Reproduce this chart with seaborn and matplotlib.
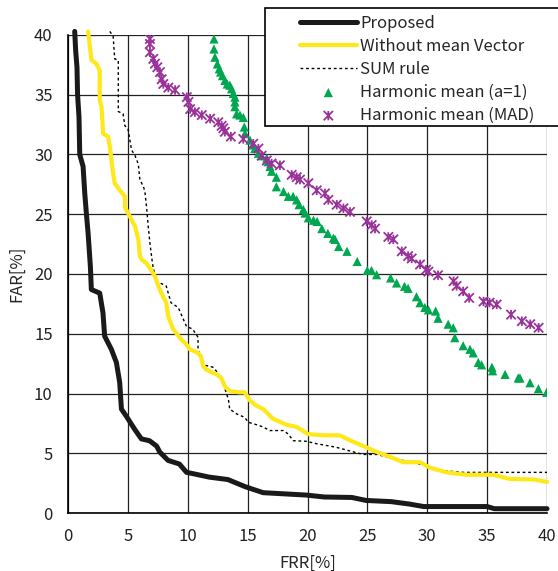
import matplotlib
matplotlib.use("Agg")
import matplotlib.pyplot as plt
from matplotlib.path import Path
from matplotlib.patches import Rectangle
import seaborn as sns
import pandas as pd

# FRR / FAR curves (percent)
proposed_frr = [0.56, 0.64, 0.75, 0.8, 0.92, 0.98, 1.26, 1.4, 1.54, 1.68, 1.87, 1.95, 2.65, 2.92, 3.06,
                3.62, 4.04, 4.32, 4.46, 4.87, 5.57, 6.13, 6.8, 7.4, 7.66, 8.36, 9.3, 9.9, 10.4, 11.8,
                13.35, 14.8, 15.1, 16.3, 18.1, 19.9, 21.4, 23.7, 24.9, 27.0, 28.5, 29.7, 35.0, 35.6, 40.0]
proposed_far = [40.3, 38.7, 37.3, 35.0, 33.1, 30.0, 29.0, 26.75, 25.0, 23.4, 20.6, 18.7, 18.4, 16.75, 14.8,
                13.7, 12.6, 10.9, 8.7, 8.1, 7.0, 6.2, 6.05, 5.6, 5.1, 4.4, 4.1, 3.4, 3.3, 3.0,
                2.8, 2.2, 2.1, 1.7, 1.6, 1.5, 1.34, 1.3, 1.05, 0.95, 0.75, 0.54, 0.54, 0.36, 0.36]

nomean_frr = [1.68, 1.96, 2.37, 2.65, 2.65, 2.8, 2.93, 3.35, 3.5, 3.63, 3.77, 3.9, 4.33, 4.75, 4.75,
              5.17, 5.6, 5.87, 6.0, 6.15, 6.56, 6.84, 7.26, 7.54, 7.8, 8.2, 8.36, 8.77, 9.47, 9.9,
              10.17, 10.86, 11.1, 11.28, 11.56, 12.4, 12.8, 13.1, 13.5, 14.3, 14.76, 15.2, 15.7, 16.3, 16.7,
              17.1, 18.2, 19.1, 20.05, 21.3, 22.7, 23.5, 24.9, 25.8, 26.9, 28.0, 29.4, 30.2, 31.6, 33.3,
              35.5, 36.9, 38.9, 40.0]
nomean_far = [40.3, 37.9, 37.6, 37.0, 34.5, 34.0, 31.75, 31.5, 30.6, 29.5, 28.4, 27.6, 27.0, 26.5, 25.6,
              24.8, 24.0, 22.9, 21.5, 21.2, 20.9, 20.5, 19.8, 19.0, 18.4, 17.6, 16.5, 15.4, 14.5, 14.1,
              13.7, 13.4, 13.1, 12.3, 12.0, 11.6, 11.3, 10.6, 10.2, 10.1, 10.1, 9.4, 9.0, 8.7, 8.3,
              7.9, 7.4, 7.2, 6.6, 6.5, 6.5, 6.1, 5.5, 5.1, 4.7, 4.25, 4.25, 3.8, 3.4, 3.2,
              3.2, 2.85, 2.8, 2.6]

sum_frr = [3.49, 3.77, 3.9, 4.2, 4.2, 4.6, 4.75, 5.0, 5.17, 5.3, 5.6, 5.87, 6.0, 6.3, 6.42,
           6.56, 6.7, 6.84, 7.0, 7.1, 7.38, 8.2, 8.6, 9.2, 9.9, 10.4, 10.86, 10.86, 11.3, 12.1,
           12.5, 12.8, 13.1, 13.4, 13.5, 14.07, 14.76, 15.04, 15.7, 16.3, 16.85, 18.0, 18.4, 18.8, 19.9,
           20.75, 22.4, 23.5, 24.65, 25.8, 27.4, 28.8, 29.7, 31.3, 33.0, 40.0]
sum_far = [40.3, 39.9, 38.0, 37.9, 33.6, 33.4, 32.4, 32.2, 31.2, 30.4, 29.9, 29.2, 27.9, 27.3, 26.9,
           25.6, 24.0, 22.6, 21.3, 20.6, 19.4, 19.0, 17.6, 17.2, 15.6, 15.4, 14.7, 13.7, 12.4, 12.2,
           11.75, 11.2, 10.4, 9.5, 8.7, 8.3, 8.0, 7.6, 7.4, 7.2, 6.9, 6.9, 6.6, 6.05, 6.0,
           5.8, 5.5, 5.2, 4.9, 4.9, 4.5, 4.25, 4.0, 3.55, 3.4, 3.4]

hm1_frr = [12.19, 12.19, 12.27, 12.47, 12.63, 12.74, 12.9, 13.1, 13.3, 13.52, 13.66, 13.8, 13.94, 13.94, 13.94,
           14.08, 14.36, 14.64, 14.72, 14.78, 15.2, 15.47, 15.6, 15.9, 16.17, 16.6, 16.7, 16.87, 17.0, 17.4,
           17.4, 18.0, 18.4, 18.8, 19.1, 19.3, 19.65, 19.8, 20.07, 20.5, 20.8, 21.2, 21.7, 22.16, 22.3,
           22.6, 23.3, 24.15, 24.99, 25.35, 25.77, 26.94, 27.44, 28.1, 28.4, 29.1, 29.4, 29.8, 30.1, 30.7,
           30.9, 31.75, 32.17, 32.3, 33.0, 33.57, 33.84, 34.26, 34.54, 35.4, 35.46, 36.5, 37.6, 37.74, 38.58,
           39.28, 39.97]
hm1_far = [39.67, 38.83, 38.14, 37.58, 37.17, 36.9, 36.6, 36.2, 35.9, 35.8, 35.5, 35.1, 34.8, 34.4, 34.0,
           33.4, 33.3, 33.1, 32.3, 31.75, 31.2, 30.8, 30.5, 30.1, 29.9, 29.7, 29.4, 29.0, 28.6, 28.1,
           27.3, 26.9, 26.5, 26.5, 26.2, 25.8, 25.4, 25.1, 24.7, 24.5, 24.4, 23.8, 23.4, 23.0, 22.9,
           22.3, 21.9, 21.05, 20.3, 20.3, 19.94, 19.67, 19.25, 18.97, 18.8, 18.1, 17.6, 17.2, 17.0, 16.9,
           16.3, 15.8, 15.5, 14.67, 14.0, 13.7, 13.4, 12.6, 12.4, 12.2, 11.9, 11.6, 11.3, 11.3, 10.9,
           10.4, 10.1]

mad_frr = [6.84, 6.84, 6.84, 7.12, 7.26, 7.46, 7.68, 7.82, 7.96, 8.38, 8.94, 9.92, 10.06, 10.2, 10.6,
           11.17, 11.87, 12.55, 12.83, 12.97, 13.1, 13.6, 14.64, 15.47, 15.9, 16.17, 16.6, 17.0, 17.7, 18.68,
           19.1, 19.37, 20.07, 20.77, 21.46, 21.74, 22.44, 23.0, 23.55, 24.94, 25.36, 25.64, 26.75, 27.17, 27.87,
           28.4, 28.7, 29.4, 29.9, 30.1, 30.9, 32.2, 32.45, 33.0, 33.5, 34.7, 35.2, 35.8, 37.0, 37.9,
           38.6, 39.3]
mad_far = [39.67, 39.25, 38.56, 38.0, 37.6, 37.3, 36.9, 36.3, 35.9, 35.6, 35.4, 34.8, 34.4, 33.8, 33.55,
           33.3, 33.0, 32.7, 32.4, 32.2, 31.9, 31.5, 31.3, 30.9, 30.5, 29.9, 29.5, 29.25, 29.1, 28.3,
           28.1, 27.9, 27.6, 27.0, 26.75, 26.2, 25.8, 25.5, 25.2, 24.4, 24.1, 23.8, 23.1, 22.9, 21.9,
           21.5, 21.3, 20.8, 20.36, 20.2, 19.9, 19.4, 19.0, 18.55, 18.0, 17.7, 17.6, 17.45, 16.6, 16.05,
           15.8, 15.5]

ticks = [0, 5, 10, 15, 20, 25, 30, 35, 40]

sns.set_style("white")
plt.rcParams["font.family"] = ["Noto Sans CJK JP", "DejaVu Sans"]

fig = plt.figure(figsize=(5.58, 5.71), dpi=100)
ax = fig.add_axes([68 / 558, 1 - 513 / 571, 479 / 558, 478 / 571])

# asterisk-like marker: X with a vertical bar
star = Path([(-1, -1), (1, 1), (-1, 1), (1, -1), (0, -1), (0, 1)],
            [Path.MOVETO, Path.LINETO, Path.MOVETO, Path.LINETO, Path.MOVETO, Path.LINETO])
purple = "#993399"

df_prop = pd.DataFrame({"FRR": proposed_frr, "FAR": proposed_far})
df_nm = pd.DataFrame({"FRR": nomean_frr, "FAR": nomean_far})
df_sum = pd.DataFrame({"FRR": sum_frr, "FAR": sum_far})
df_hm1 = pd.DataFrame({"FRR": hm1_frr, "FAR": hm1_far})
df_mad = pd.DataFrame({"FRR": mad_frr, "FAR": mad_far})

sns.lineplot(data=df_sum, x="FRR", y="FAR", sort=False, estimator=None, ax=ax,
             color="black", lw=1.0, ls=(0, (2, 2)), label="SUM rule", zorder=3)
sns.lineplot(data=df_nm, x="FRR", y="FAR", sort=False, estimator=None, ax=ax,
             color="#ffe81a", lw=3.0, label="Without mean Vector", zorder=4)
sns.lineplot(data=df_prop, x="FRR", y="FAR", sort=False, estimator=None, ax=ax,
             color="#1a1a1a", lw=3.6, label="Proposed", zorder=5)
sns.scatterplot(data=df_hm1, x="FRR", y="FAR", ax=ax, marker="^", s=44,
                color="#00a650", edgecolor="none", label="Harmonic mean (a=1)", zorder=6)
sns.scatterplot(data=df_mad, x="FRR", y="FAR", ax=ax, marker=star, s=45,
                color=purple, edgecolor=purple, facecolor="none", linewidth=1.3,
                label="Harmonic mean (MAD)", zorder=6)

for ln in ax.get_lines():
    ln.set_clip_on(False)

ax.set_xlim(0, 40)
ax.set_ylim(0, 40)
ax.set_xticks(ticks)
ax.set_yticks(ticks)
ax.grid(True, color="#222222", lw=0.9)
ax.set_axisbelow(True)
for side in ["top", "right"]:
    ax.spines[side].set_visible(False)
for side in ["left", "bottom"]:
    ax.spines[side].set_color("black")
    ax.spines[side].set_linewidth(1.2)
ax.tick_params(labelsize=12, length=0, pad=11, colors="#222222")
ax.set_xlabel("FRR[%]", fontsize=12, labelpad=7)
ax.set_ylabel("FAR[%]", fontsize=12, labelpad=6)

handles, labels = ax.get_legend_handles_labels()
order = ["Proposed", "Without mean Vector", "SUM rule", "Harmonic mean (a=1)", "Harmonic mean (MAD)"]
h = [handles[labels.index(o)] for o in order]
ax.get_legend().remove()
fig.legend(h, order, loc="upper left", bbox_to_anchor=(300 / 558, 1 - 15 / 571),
           frameon=False, fontsize=12, handlelength=3.4, handletextpad=0.2,
           labelspacing=0.36, borderpad=0, borderaxespad=0, scatterpoints=1)
fig.patches.append(Rectangle((265 / 558, 1 - 126 / 571), 300 / 558, 118 / 571,
                             transform=fig.transFigure, fill=True, facecolor="white",
                             edgecolor="black", lw=1.2, zorder=0))

fig.savefig("out.png", dpi=100)
